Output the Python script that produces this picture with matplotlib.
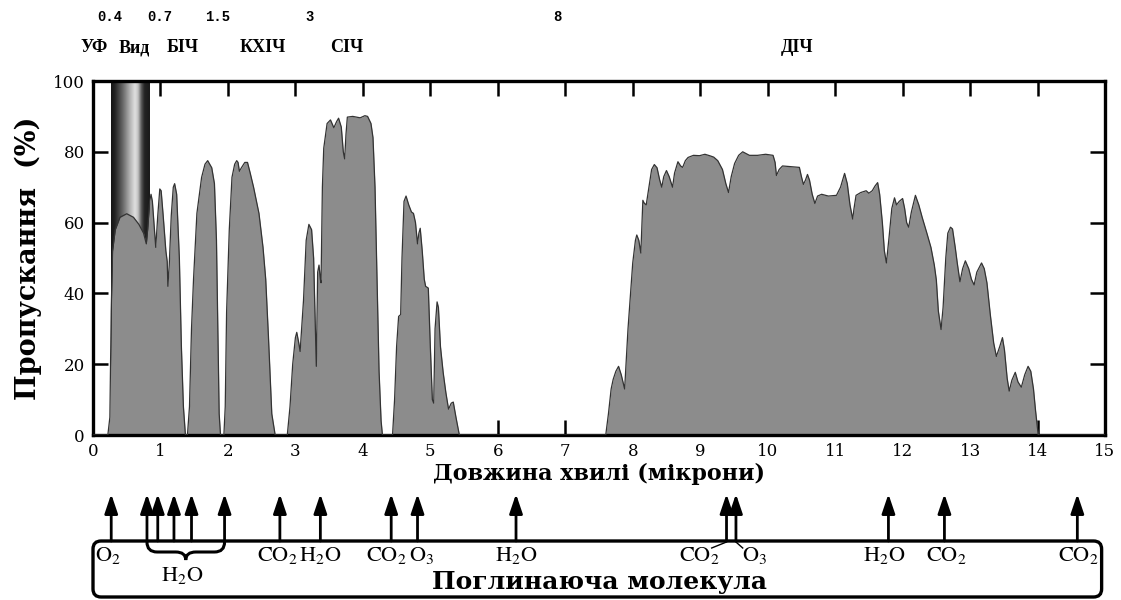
import numpy as np
import matplotlib
matplotlib.use('Agg')
from matplotlib import pyplot as plt
from matplotlib.patches import FancyBboxPatch, PathPatch
from matplotlib.path import Path

# transmission spectrum (wavelength in microns, transmission in %)
wavelength = [
    0.00, 0.22, 0.25, 0.27, 0.29, 0.33, 0.40, 0.50, 0.60, 0.68, 0.75, 0.79, 0.81, 0.84, 0.86,
    0.88, 0.91, 0.93, 0.96, 0.99, 1.01, 1.04, 1.08, 1.10, 1.11, 1.13, 1.16, 1.19, 1.21,
    1.24, 1.28, 1.31, 1.34, 1.37,
    1.40, 1.43, 1.46, 1.49, 1.54, 1.61, 1.66, 1.70, 1.76, 1.80, 1.83, 1.85, 1.87, 1.89,
    1.94, 1.96, 1.98, 2.02, 2.06, 2.10, 2.13, 2.15, 2.17, 2.20, 2.25, 2.29, 2.33, 2.38,
    2.46, 2.52, 2.56, 2.60, 2.65, 2.70,
    2.88, 2.92, 2.96, 3.00, 3.02, 3.05, 3.07, 3.12, 3.16, 3.20, 3.24, 3.27, 3.29, 3.31,
    3.33, 3.35, 3.37, 3.38, 3.40, 3.42, 3.47, 3.52, 3.57, 3.61, 3.64, 3.68, 3.71, 3.73,
    3.75, 3.77, 3.85, 3.96, 4.03, 4.07, 4.12, 4.15, 4.18, 4.21, 4.24, 4.27, 4.29,
    4.44, 4.47, 4.50, 4.53, 4.56, 4.58, 4.61, 4.64, 4.68, 4.72, 4.75, 4.78, 4.81, 4.83,
    4.85, 4.88, 4.91, 4.93, 4.97, 5.00, 5.03, 5.05, 5.07, 5.10, 5.12, 5.15, 5.19, 5.23,
    5.27, 5.31, 5.34, 5.38, 5.43,
    7.60, 7.64, 7.68, 7.71, 7.75, 7.79, 7.83, 7.88, 7.93, 8.00, 8.04, 8.06, 8.09, 8.12,
    8.15, 8.17, 8.20, 8.24, 8.28, 8.32, 8.36, 8.40, 8.43, 8.46, 8.50, 8.54, 8.59, 8.62,
    8.67, 8.71, 8.74, 8.78, 8.82, 8.90, 8.99, 9.07, 9.14, 9.20, 9.26, 9.33, 9.38, 9.42,
    9.46, 9.51, 9.57, 9.63, 9.68, 9.73, 9.85, 9.97, 10.08, 10.11, 10.13, 10.17, 10.22,
    10.35, 10.47, 10.50, 10.53, 10.56, 10.59, 10.62, 10.66, 10.70, 10.74, 10.80, 10.90,
    11.02, 11.08, 11.14, 11.18, 11.22, 11.26, 11.28, 11.31, 11.38, 11.46, 11.50, 11.55,
    11.59, 11.63, 11.66, 11.70, 11.73, 11.76, 11.80, 11.84, 11.88, 11.91, 11.95, 12.00,
    12.03, 12.06, 12.09, 12.13, 12.19, 12.24, 12.29, 12.36, 12.42, 12.47, 12.50, 12.53,
    12.57, 12.60, 12.64, 12.67, 12.71, 12.74, 12.78, 12.81, 12.85, 12.89, 12.93, 12.98,
    13.02, 13.06, 13.10, 13.17, 13.21, 13.25, 13.30, 13.35, 13.39, 13.44, 13.48, 13.51,
    13.55, 13.58, 13.62, 13.67, 13.71, 13.76, 13.81, 13.86, 13.90, 13.94, 13.97, 14.01,
    15.00,
]
transmission = [
    0, 0, 5, 35, 52, 58, 61.5, 62.5, 61.5, 59.5, 57, 54, 58, 66, 68,
    66, 58, 53, 62, 69.5, 69, 62, 52, 49, 42, 48, 62, 70, 71,
    68, 50, 25, 8, 0,
    0, 8, 30, 44, 62.6, 72.8, 76.5, 77.5, 75.5, 71, 55, 30, 6, 0,
    0, 8, 34.6, 58, 72.8, 76.5, 77.5, 77, 74.5, 75.5, 77, 77, 74, 70,
    62.6, 53, 44, 28, 6, 0,
    0, 8, 20, 27.5, 29, 26, 23.6, 38, 55, 59.5, 58, 50, 35, 19.4,
    46, 48, 44, 43, 70, 81, 88, 89, 86.8, 88.5, 89.5, 87, 80, 78,
    85, 89.8, 90, 89.6, 90.2, 90, 88, 84, 70, 44, 18, 4, 0,
    0, 10, 25, 33.5, 34, 50, 66, 67.5, 65, 63, 62.6, 60, 54, 57,
    58.4, 52, 44, 42, 41.5, 25, 10, 9, 30, 37.6, 36, 25, 17.7, 12,
    7.3, 9, 9.3, 5, 0,
    0, 6, 13, 15.7, 18, 19.4, 17, 13, 30, 48.6, 55, 56.5, 55, 51.4,
    66.3, 65.5, 65, 70, 75, 76.4, 75.5, 72, 70, 73, 74.7, 73, 70, 74,
    77.2, 76, 75.6, 77.5, 78.4, 79, 78.9, 79.3, 78.9, 78.5, 77.5, 75, 71, 68.5,
    73, 76.7, 79, 80, 79.5, 79, 79, 79.3, 79, 77, 73.3, 75, 76,
    75.8, 75.6, 73, 70.8, 72, 73.6, 72, 68, 65.4, 67.5, 68, 67.5,
    67.7, 70, 73.9, 71, 65, 61, 64, 67.7, 68.5, 69, 68.3, 69,
    70.3, 71.3, 68, 60, 52, 48.6, 56, 64, 67, 65, 66, 66.8,
    64, 60, 58.7, 63, 67.7, 65, 61.5, 57, 53, 48, 43.8, 35,
    29.8, 36, 50, 57, 58.7, 58.2, 53, 48.6, 43.3, 47, 49.2, 47,
    44, 42.4, 46, 48.6, 47, 43, 34, 26, 22.2, 25, 27.5, 24,
    16, 12.4, 15.5, 17.7, 15, 13.5, 17, 19.4, 18, 13, 7, 0,
    0,
]

# absorbing molecules: arrow positions and label positions (microns)
arrow_x = [0.27, 0.80, 0.96, 1.20, 1.46, 1.95, 2.77, 3.37, 4.42, 4.81, 6.27,
           9.39, 9.53, 11.79, 12.62, 14.59]
molecule_labels = ['O_2', 'CO_2', 'H_2O', 'CO_2', 'O_3', 'H_2O', 'CO_2', 'O_3',
                   'H_2O', 'CO_2', 'CO_2']
molecule_x = [0.22, 2.73, 3.37, 4.35, 4.87, 6.27, 8.98, 9.80, 11.73, 12.65, 14.60]
brace_from, brace_to = 0.80, 1.95

# band names along the top
band_values = ['0.4', '0.7', '1.5', '3', '8']
band_values_px = [110, 160, 218, 310, 557]
band_names = ['УФ', 'Вид', 'БІЧ', 'КХІЧ', 'СІЧ', 'ДІЧ']
band_names_px = [94, 134, 183, 263, 347, 797]

W, H = 1121, 600
plt.rcParams['font.family'] = ['Liberation Serif', 'DejaVu Serif']
plt.rcParams['mathtext.fontset'] = 'stix'
wide_serif = ['DejaVu Serif']

fig = plt.figure(figsize=(W / 100, H / 100), dpi=100)
left, right, top, bottom = 93, 1105, 81, 435
ax = fig.add_axes([left / W, 1 - bottom / H, (right - left) / W, (bottom - top) / H])

# visible band gradient
profile_t = [0.0, 0.1, 0.3, 0.5, 0.62, 0.7, 0.78, 0.86, 1.0]
profile_v = [0.08, 0.14, 0.40, 0.72, 0.88, 0.75, 0.35, 0.14, 0.10]
grad = np.interp(np.linspace(0, 1, 200), profile_t, profile_v)[None, :]
ax.imshow(grad, extent=[0.26, 0.83, 0, 100], aspect='auto', cmap='gray',
          vmin=0, vmax=1, zorder=1, interpolation='bicubic')

ax.fill_between(wavelength, transmission, 0, color='#8c8c8c', zorder=2, lw=0)
ax.plot(wavelength, transmission, color='#333333', lw=0.9, zorder=3)

ax.set_xlim(0, 15)
ax.set_ylim(0, 100)
ax.set_xticks(range(0, 16))
ax.set_yticks(range(0, 101, 20))
ax.tick_params(direction='in', length=11, width=1.8, top=True, right=True,
               labelsize=12, pad=6)
for lab in ax.get_xticklabels() + ax.get_yticklabels():
    lab.set_family(wide_serif)
for s in ax.spines.values():
    s.set_linewidth(2.4)
ax.set_xlabel('Довжина хвилі (мікрони)', fontsize=16, fontweight='bold',
              labelpad=2, family=wide_serif)
ax.set_ylabel('Пропускання  (%)', fontsize=19.5, fontweight='bold',
              labelpad=8, family=wide_serif)

for txt, px in zip(band_values, band_values_px):
    fig.text(px / W, 1 - 17 / H, txt, ha='center', va='center', fontsize=10,
             fontweight='bold', family=['Liberation Mono', 'DejaVu Sans Mono'])
for txt, px in zip(band_names, band_names_px):
    fig.text(px / W, 1 - 48 / H, txt, ha='center', va='center', fontsize=13,
             fontweight='bold')

# absorbing molecule panel
ax2 = fig.add_axes([left / W, 0, (right - left) / W, 112 / H])
ax2.set_xlim(0, 15)
ax2.set_ylim(600, 488)
ax2.axis('off')

box = FancyBboxPatch((0.0, 541), 14.95, 56,
                     boxstyle='round,pad=0,rounding_size=0.12',
                     mutation_aspect=67.5, fc='none', ec='black', lw=2.4,
                     clip_on=False)
ax2.add_patch(box)

for x in arrow_x:
    ax2.annotate('', xy=(x, 494), xytext=(x, 541),
                 arrowprops=dict(arrowstyle='-|>,head_length=0.65,head_width=0.22',
                                 lw=2, color='black', mutation_scale=18,
                                 shrinkA=0, shrinkB=0))

for lab, x in zip(molecule_labels, molecule_x):
    ax2.text(x, 555, r'$\mathrm{' + lab + '}$', ha='center', va='center', fontsize=16)

# brace under the group of water arrows
mid = (brace_from + brace_to) / 2
verts = [(brace_from, 542), (brace_from, 552), (brace_from + 0.15, 552),
         (mid - 0.15, 552), (mid, 552), (mid, 560),
         (mid, 552), (mid + 0.15, 552),
         (brace_to - 0.15, 552), (brace_to, 552), (brace_to, 542)]
codes = [Path.MOVETO, Path.CURVE3, Path.CURVE3, Path.LINETO, Path.CURVE3, Path.CURVE3,
         Path.CURVE3, Path.CURVE3, Path.LINETO, Path.CURVE3, Path.CURVE3]
ax2.add_patch(PathPatch(Path(verts, codes), fc='none', ec='black', lw=2.2))
ax2.text(mid - 0.05, 576, r'$\mathrm{H_2O}$', ha='center', va='center', fontsize=16)

# little connectors for the CO2 / O3 pair
ax2.plot([arrow_x[11], arrow_x[11] - 0.22], [542, 548], color='black', lw=1)
ax2.plot([arrow_x[12], arrow_x[12] + 0.1], [542, 548], color='black', lw=1)

ax2.text(7.5, 582, 'Поглинаюча молекула', ha='center', va='center', fontsize=18,
         fontweight='bold', family=wide_serif)

fig.savefig('out.png', dpi=100)
